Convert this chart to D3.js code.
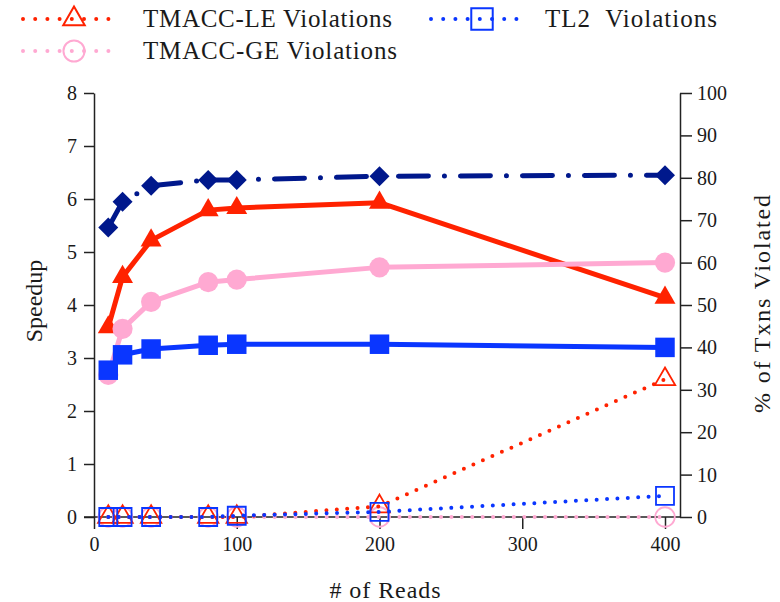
<!DOCTYPE html>
<html>
<head>
<meta charset="utf-8">
<script src="https://cdn.jsdelivr.net/npm/d3@7"></script>
<style>
  body { margin: 0; background: #fff; }
  svg text { font-family: "Times New Roman", Times, "Liberation Serif", "Nimbus Roman", serif; fill: #1a1a1a; }
  .axis path, .axis line { stroke: #222; stroke-width: 1.5; }
</style>
</head>
<body>
<div class="holder"></div>
<script>
const reads = [10, 20, 40, 80, 100, 200, 400];

// speedup (left axis)
const tmaccLeSpeedup = [3.58, 4.53, 5.22, 5.79, 5.83, 5.93, 4.14];
const tmaccGeSpeedup = [2.68, 3.55, 4.06, 4.43, 4.48, 4.71, 4.8];
const tl2Speedup = [2.77, 3.06, 3.17, 3.24, 3.26, 3.26, 3.2];
const seqSpeedup = [5.46, 5.95, 6.25, 6.36, 6.36, 6.43, 6.45];

// % of txns violated (right axis)
const tmaccLeViol = [0, 0, 0, 0, 0, 2.5, 32.5];
const tmaccGeViol = [0, 0, 0, 0, 0, 0, 0];
const tl2Viol = [0, 0, 0, 0, 0.3, 1.2, 5];

const xTicks = [0, 100, 200, 300, 400];
const leftTicks = [0, 1, 2, 3, 4, 5, 6, 7, 8];
const rightTicks = [0, 10, 20, 30, 40, 50, 60, 70, 80, 90, 100];

const RED = '#ff2200';
const PINK = '#ffa9d2';
const BLUE = '#0a36ff';
const NAVY = '#00188c';

const svg = d3
  .select('.holder')
  .append('svg')
  .attr('width', 780)
  .attr('height', 602);

const xScale = d3.scaleLinear().domain([0, 400]).range([94, 665]);
const yLeft = d3.scaleLinear().domain([0, 8]).range([517, 93]);
const yRight = d3.scaleLinear().domain([0, 100]).range([517, 93]);

// axes
svg
  .append('g')
  .attr('class', 'axis')
  .attr('transform', 'translate(94,0)')
  .call(d3.axisLeft(yLeft).tickValues(leftTicks).tickSize(10).tickSizeOuter(0).tickPadding(7))
  .call(g => g.selectAll('text').style('font-size', '20px'));

svg
  .append('g')
  .attr('class', 'axis')
  .attr('transform', 'translate(680,0)')
  .call(d3.axisRight(yRight).tickValues(rightTicks).tickSize(12).tickSizeOuter(0).tickPadding(5))
  .call(g => g.selectAll('text').style('font-size', '20px'));

svg
  .append('g')
  .attr('class', 'axis')
  .attr('transform', 'translate(0,517)')
  .call(d3.axisBottom(xScale).tickValues(xTicks).tickSize(12).tickSizeOuter(0).tickPadding(8))
  .call(g => g.select('.domain').remove())
  .call(g => g.selectAll('text').style('font-size', '20px'));

svg
  .append('line')
  .attr('x1', 84)
  .attr('x2', 680)
  .attr('y1', 517)
  .attr('y2', 517)
  .attr('stroke', '#222')
  .attr('stroke-width', 1.5);

// axis titles
svg
  .append('text')
  .attr('transform', 'translate(42,301) rotate(-90)')
  .attr('text-anchor', 'middle')
  .style('font-size', '24px')
  .text('Speedup');

svg
  .append('text')
  .attr('transform', 'translate(770,304) rotate(-90)')
  .attr('text-anchor', 'middle')
  .attr('textLength', 218)
  .attr('lengthAdjust', 'spacing')
  .style('font-size', '24px')
  .text('% of Txns Violated');

svg
  .append('text')
  .attr('x', 385)
  .attr('y', 598)
  .attr('text-anchor', 'middle')
  .attr('textLength', 111)
  .attr('lengthAdjust', 'spacing')
  .style('font-size', '24px')
  .text('# of Reads');

const sym = {
  triangle: d3.symbol().type(d3.symbolTriangle),
  square: d3.symbol().type(d3.symbolSquare),
  circle: d3.symbol().type(d3.symbolCircle)
};

// violation series (dotted, hollow markers)
const violSeries = [
  { vals: tmaccGeViol, color: PINK, shape: 'circle', size: 300 },
  { vals: tmaccLeViol, color: RED, shape: 'triangle', size: 180 },
  { vals: tl2Viol, color: BLUE, shape: 'square', size: 324 }
];

violSeries.forEach(s => {
  const line = d3.line()
    .x((d, i) => xScale(reads[i]))
    .y(d => yRight(d));
  svg
    .append('path')
    .datum(s.vals)
    .attr('d', line)
    .attr('fill', 'none')
    .attr('stroke', s.color)
    .attr('stroke-width', 4)
    .attr('stroke-linecap', 'round')
    .attr('stroke-dasharray', '0 10.4');
  svg
    .selectAll(null)
    .data(s.vals)
    .enter()
    .append('path')
    .attr('d', sym[s.shape].size(s.size)())
    .attr('transform', (d, i) => 'translate(' + xScale(reads[i]) + ',' + yRight(d) + ')')
    .attr('fill', 'none')
    .attr('stroke', s.color)
    .attr('stroke-width', 1.8);
});

// speedup series (solid, filled markers)
const speedSeries = [
  { vals: tmaccLeSpeedup, color: RED, shape: 'triangle', size: 190, dash: null },
  { vals: tmaccGeSpeedup, color: PINK, shape: 'circle', size: 320, dash: null },
  { vals: tl2Speedup, color: BLUE, shape: 'square', size: 380, dash: null },
  { vals: seqSpeedup, color: NAVY, shape: 'diamond', size: 200, dash: '30 16 0 16' }
];

speedSeries.forEach(s => {
  const line = d3.line()
    .x((d, i) => xScale(reads[i]))
    .y(d => yLeft(d));
  svg
    .append('path')
    .datum(s.vals)
    .attr('d', line)
    .attr('fill', 'none')
    .attr('stroke', s.color)
    .attr('stroke-width', 5)
    .attr('stroke-linecap', s.dash ? 'round' : 'butt')
    .attr('stroke-linejoin', 'round')
    .attr('stroke-dasharray', s.dash);
  const shape = s.shape === 'diamond' ? sym.square : sym[s.shape];
  svg
    .selectAll(null)
    .data(s.vals)
    .enter()
    .append('path')
    .attr('d', shape.size(s.size)())
    .attr('transform', (d, i) => 'translate(' + xScale(reads[i]) + ',' + yLeft(d) + ')' +
      (s.shape === 'diamond' ? ' rotate(45)' : ''))
    .attr('fill', s.color);
});

// legend
const legend = [
  { label: 'TMACC-LE Violations', color: RED, shape: 'triangle', size: 200, x: 20, y: 19, tx: 143, tl: 249 },
  { label: 'TL2  Violations', color: BLUE, shape: 'square', size: 460, x: 428, y: 19, tx: 545, tl: 172 },
  { label: 'TMACC-GE Violations', color: PINK, shape: 'circle', size: 350, x: 20, y: 51, tx: 143, tl: 254 }
];

legend.forEach(l => {
  svg
    .append('line')
    .attr('x1', l.x + 3)
    .attr('x2', l.x + 100)
    .attr('y1', l.y)
    .attr('y2', l.y)
    .attr('stroke', l.color)
    .attr('stroke-width', 4)
    .attr('stroke-linecap', 'round')
    .attr('stroke-dasharray', '0 12.2');
  svg
    .append('path')
    .attr('d', sym[l.shape].size(l.size)())
    .attr('transform', 'translate(' + (l.x + 54) + ',' + l.y + ')')
    .attr('fill', 'none')
    .attr('stroke', l.color)
    .attr('stroke-width', 2);
  svg
    .append('text')
    .attr('x', l.tx)
    .attr('y', l.y + 8)
    .attr('textLength', l.tl)
    .attr('lengthAdjust', 'spacing')
    .attr('xml:space', 'preserve')
    .style('font-size', '25px')
    .text(l.label);
});
</script>
</body>
</html>
